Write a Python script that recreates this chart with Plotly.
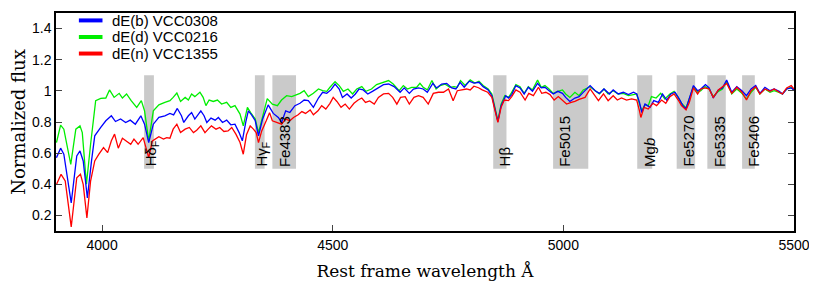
import plotly.graph_objects as go

# ---------------- data ----------------
series_names = ["dE(b) VCC0308", "dE(d) VCC0216", "dE(n) VCC1355"]
series_colors = ["#0000ff", "#00ee00", "#ff0000"]

wl_green = [3901, 3910, 3917, 3932, 3943, 3952, 3957, 3966, 3975, 3986, 3997, 4008, 4016, 4026, 4037, 4044,
            4053, 4063, 4075, 4085, 4092, 4101, 4111, 4123, 4136, 4147, 4154, 4162, 4170, 4180, 4187, 4194,
            4201, 4212, 4219, 4225, 4232, 4241, 4250, 4259, 4270, 4279, 4288, 4299, 4306, 4315, 4322, 4332,
            4339, 4350, 4358, 4369, 4380, 4389, 4400, 4411, 4422, 4429, 4438, 4447, 4458, 4469, 4478, 4487,
            4494, 4505, 4514, 4523, 4533, 4543, 4552, 4563, 4572, 4584, 4595, 4610, 4621, 4631, 4644, 4653,
            4662, 4671, 4682, 4689, 4696, 4705, 4715, 4724, 4733, 4743, 4754, 4763, 4770, 4777, 4787, 4798,
            4808, 4817, 4826, 4837, 4845, 4850, 4858, 4865, 4873, 4881, 4886, 4897, 4906, 4915, 4924, 4933,
            4944, 4952, 4960, 4969, 4978, 4988, 4998, 5005, 5014, 5025, 5034, 5043, 5058, 5069, 5078, 5088,
            5097, 5108, 5119, 5130, 5141, 5152, 5159, 5165, 5170, 5177, 5184, 5191, 5201, 5211, 5220, 5231,
            5240, 5249, 5256, 5266, 5273, 5282, 5291, 5298, 5307, 5316, 5325, 5336, 5345, 5354, 5365, 5376,
            5387, 5397, 5407, 5417, 5426, 5437, 5448, 5457, 5466, 5475, 5484, 5494, 5500]
flux_green = [0.668, 0.78, 0.754, 0.528, 0.754, 0.775, 0.732, 0.40, 0.657, 0.937, 0.952, 0.954, 1.006, 0.958, 0.984, 0.954,
              0.980, 0.937, 0.894, 0.937, 0.872, 0.679, 0.872, 0.91, 0.926, 0.937, 0.958, 0.986, 0.932, 0.958, 0.941, 0.98,
              0.963, 0.991, 0.958, 0.905, 0.941, 0.932, 0.941, 0.915, 0.926, 0.894, 0.905, 0.851, 0.775, 0.894, 0.861, 0.819,
              0.732, 0.87, 0.95, 0.915, 0.905, 0.941, 0.969, 0.963, 0.976, 0.984, 1.001, 0.963, 0.984, 1.012, 1.001, 0.997,
              1.023, 1.059, 1.034, 0.997, 1.012, 0.98, 1.012, 1.027, 0.997, 1.012, 1.04, 1.055, 1.066, 1.044, 1.001, 1.034,
              1.012, 1.023, 1.023, 1.048, 1.023, 1.006, 1.066, 1.012, 1.034, 1.044, 1.023, 1.027, 1.023, 1.066, 1.034, 1.07,
              1.05, 1.061, 1.034, 1.012, 0.98, 0.915, 0.808, 0.915, 0.969, 0.958, 0.98, 1.04, 1.027, 0.984, 1.027, 1.006,
              1.07, 1.023, 1.034, 1.012, 0.984, 0.997, 1.006, 0.98, 0.958, 0.991, 0.969, 1.006, 1.027, 1.001, 0.98, 1.012,
              0.98, 1.001, 0.98, 0.984, 0.969, 0.976, 0.98, 0.915, 0.872, 0.911, 0.905, 0.963, 0.954, 0.984, 0.948, 0.98,
              0.997, 0.958, 0.92, 0.89, 0.948, 1.027, 0.991, 1.001, 1.027, 1.012, 0.963, 0.997, 1.012, 1.061, 0.98, 1.012,
              0.984, 0.948, 0.991, 1.023, 0.98, 1.012, 0.991, 1.001, 0.991, 0.98, 1.012, 1.023, 1.001]

wl_blue = [3901, 3910, 3917, 3933, 3945, 3952, 3959, 3968, 3977, 3984, 3997, 4008, 4020, 4029, 4040, 4051,
           4061, 4072, 4084, 4092, 4101, 4111, 4123, 4136, 4147, 4155, 4163, 4172, 4177, 4187, 4194, 4201,
           4214, 4221, 4227, 4236, 4245, 4252, 4261, 4270, 4279, 4288, 4297, 4304, 4312, 4317, 4324, 4332,
           4339, 4348, 4360, 4371, 4382, 4389, 4398, 4407, 4418, 4429, 4438, 4447, 4458, 4469, 4478, 4487,
           4496, 4505, 4514, 4521, 4531, 4540, 4549, 4557, 4566, 4576, 4586, 4597, 4610, 4621, 4633, 4646,
           4655, 4666, 4675, 4686, 4696, 4705, 4717, 4725, 4736, 4747, 4758, 4767, 4776, 4785, 4796, 4806,
           4817, 4826, 4837, 4845, 4850, 4858, 4865, 4875, 4881, 4888, 4897, 4906, 4915, 4924, 4933, 4944,
           4952, 4960, 4969, 4978, 4988, 4998, 5005, 5014, 5025, 5034, 5043, 5058, 5069, 5078, 5088, 5100,
           5108, 5119, 5130, 5141, 5152, 5159, 5165, 5170, 5177, 5188, 5196, 5206, 5215, 5224, 5233, 5242,
           5251, 5259, 5266, 5273, 5282, 5291, 5298, 5308, 5316, 5325, 5336, 5345, 5354, 5365, 5376, 5387,
           5397, 5407, 5417, 5426, 5437, 5448, 5457, 5468, 5475, 5484, 5494, 5500]
flux_blue = [0.571, 0.632, 0.593, 0.281, 0.582, 0.614, 0.55, 0.313, 0.55, 0.711, 0.765, 0.808, 0.84, 0.803, 0.819, 0.797,
             0.812, 0.786, 0.84, 0.786, 0.668, 0.786, 0.83, 0.84, 0.855, 0.846, 0.887, 0.84, 0.797, 0.84, 0.861, 0.819,
             0.872, 0.84, 0.797, 0.825, 0.812, 0.829, 0.797, 0.812, 0.782, 0.786, 0.732, 0.679, 0.808, 0.872, 0.846, 0.808,
             0.711, 0.82, 0.91, 0.855, 0.829, 0.797, 0.872, 0.861, 0.905, 0.92, 0.941, 0.937, 0.894, 0.954, 0.991, 0.984,
             1.006, 1.044, 1.012, 0.958, 0.98, 0.954, 0.98, 1.012, 1.006, 0.98, 0.997, 1.015, 1.04, 1.044, 1.027, 0.991,
             1.019, 0.984, 1.012, 1.019, 1.012, 0.991, 1.048, 1.019, 1.044, 1.048, 1.019, 1.012, 1.055, 1.023, 1.062, 1.05,
             1.055, 1.027, 1.006, 0.969, 0.905, 0.803, 0.905, 0.969, 0.954, 0.976, 1.034, 1.019, 0.98, 1.023, 0.997, 1.048,
             1.019, 1.023, 1.001, 0.98, 0.997, 0.984, 0.958, 0.932, 0.954, 0.963, 0.99, 1.034, 1.001, 0.984, 1.012, 0.98,
             1.006, 0.98, 0.991, 0.976, 0.991, 0.98, 0.926, 0.861, 0.915, 0.894, 0.937, 0.926, 0.98, 0.941, 0.98, 0.991,
             0.948, 0.905, 0.885, 0.95, 1.034, 1.001, 1.012, 1.04, 1.019, 0.954, 1.006, 1.019, 1.07, 0.991, 1.027, 1.001,
             0.969, 1.012, 1.034, 0.984, 1.023, 1.001, 1.012, 0.997, 0.98, 1.012, 1.019, 1.006]

wl_red = [3901, 3911, 3920, 3933, 3945, 3953, 3959, 3967, 3975, 3984, 3993, 4003, 4012, 4020, 4027, 4035,
          4044, 4053, 4062, 4069, 4078, 4089, 4097, 4101, 4109, 4123, 4133, 4140, 4147, 4154, 4162, 4170,
          4180, 4189, 4198, 4205, 4214, 4223, 4230, 4237, 4247, 4255, 4264, 4273, 4281, 4290, 4299, 4306,
          4313, 4321, 4328, 4334, 4339, 4346, 4356, 4363, 4369, 4380, 4389, 4398, 4407, 4415, 4425, 4433,
          4441, 4451, 4458, 4468, 4476, 4485, 4494, 4501, 4509, 4518, 4527, 4536, 4546, 4555, 4563, 4571,
          4580, 4590, 4599, 4610, 4621, 4630, 4639, 4647, 4657, 4666, 4676, 4686, 4696, 4707, 4718, 4729,
          4740, 4751, 4761, 4770, 4780, 4790, 4798, 4806, 4816, 4824, 4836, 4845, 4850, 4858, 4865, 4872,
          4881, 4888, 4897, 4906, 4917, 4925, 4935, 4946, 4953, 4962, 4971, 4980, 4989, 4998, 5007, 5017,
          5025, 5034, 5047, 5058, 5066, 5076, 5087, 5097, 5108, 5117, 5126, 5137, 5148, 5159, 5165, 5168,
          5175, 5184, 5194, 5202, 5213, 5222, 5231, 5240, 5249, 5256, 5266, 5273, 5282, 5291, 5298, 5307,
          5316, 5325, 5336, 5345, 5354, 5365, 5376, 5387, 5397, 5407, 5417, 5426, 5437, 5448, 5457, 5468,
          5475, 5484, 5494, 5500]
flux_red = [0.399, 0.464, 0.421, 0.126, 0.442, 0.464, 0.399, 0.184, 0.421, 0.55, 0.593, 0.636, 0.603, 0.679, 0.722, 0.632,
            0.696, 0.679, 0.657, 0.69, 0.657, 0.70, 0.614, 0.571, 0.679, 0.705, 0.69, 0.70, 0.696, 0.754, 0.786, 0.732,
            0.754, 0.765, 0.732, 0.747, 0.775, 0.732, 0.754, 0.775, 0.754, 0.765, 0.739, 0.743, 0.765, 0.722, 0.668, 0.593,
            0.718, 0.775, 0.754, 0.732, 0.668, 0.743, 0.81, 0.86, 0.808, 0.797, 0.786, 0.819, 0.808, 0.829, 0.846, 0.867,
            0.855, 0.877, 0.846, 0.872, 0.905, 0.883, 0.92, 0.958, 0.932, 0.894, 0.915, 0.883, 0.92, 0.941, 0.954, 0.926,
            0.935, 0.915, 0.958, 0.98, 0.984, 0.958, 0.915, 0.958, 0.963, 0.915, 0.958, 0.969, 0.958, 0.915, 0.984, 0.991,
            0.991, 1.012, 0.937, 1.001, 1.006, 1.012, 1.006, 1.03, 1.02, 1.006, 0.991, 0.958, 0.894, 0.797, 0.894, 0.941,
            0.937, 0.963, 1.006, 0.991, 0.941, 0.984, 0.969, 1.023, 0.984, 0.991, 0.976, 0.941, 0.963, 0.937, 0.915, 0.926,
            0.932, 0.945, 0.958, 1.012, 0.98, 0.937, 0.98, 0.937, 0.969, 0.941, 0.954, 0.941, 0.948, 0.941, 0.872, 0.829,
            0.894, 0.883, 0.92, 0.905, 0.941, 0.92, 0.963, 0.98, 0.941, 0.905, 0.877, 0.925, 1.019, 0.98, 1.012, 1.019,
            1.012, 0.958, 1.006, 1.027, 1.048, 0.984, 1.023, 0.991, 0.941, 1.001, 1.027, 0.98, 1.012, 0.997, 1.012, 0.991,
            0.98, 1.019, 1.034, 1.012]

# Lick index passbands (Å) and their labels
band_lo = [4091.00, 4331.25, 4369.125, 4847.875, 4977.75, 5160.125, 5245.65, 5312.125, 5387.5]
band_hi = [4112.25, 4352.25, 4420.375, 4876.625, 5054.00, 5192.625, 5285.65, 5352.125, 5415.0]
band_labels = ["Hδ<sub>F</sub>", "Hγ<sub>F</sub>", "Fe4383", "Hβ", "Fe5015", "Mg<i>b</i>",
               "Fe5270", "Fe5335", "Fe5406"]
band_bottom = 0.5
band_top = 1.1

x_ticks = [4000, 4500, 5000, 5500]
y_ticks = [0.2, 0.4, 0.6, 0.8, 1.0, 1.2, 1.4]
y_tick_text = ["0.2", "0.4", "0.6", "0.8", "1", "1.2", "1.4"]

# ---------------- figure ----------------
fig = go.Figure()

spectra = {
    "dE(d) VCC0216": (wl_green, flux_green),
    "dE(b) VCC0308": (wl_blue, flux_blue),
    "dE(n) VCC1355": (wl_red, flux_red),
}
color_of = dict(zip(series_names, series_colors))
for name, (wl, fl) in spectra.items():
    fig.add_trace(go.Scatter(x=wl, y=fl, mode="lines", name=name,
                             line=dict(color=color_of[name], width=1.3),
                             showlegend=False))

label_font = dict(family="Liberation Sans, Arial, sans-serif", size=15, color="#000000")
for lo, hi, lab in zip(band_lo, band_hi, band_labels):
    fig.add_shape(type="rect", xref="x", yref="y", x0=lo, x1=hi, y0=band_bottom, y1=band_top,
                  fillcolor="#cacaca", line=dict(width=0), layer="below")
    shift = -4 if "<sub>" in lab else 1
    fig.add_annotation(x=lo, y=band_bottom, xref="x", yref="y", text=lab, textangle=-90,
                       showarrow=False, xanchor="left", yanchor="bottom", xshift=shift,
                       font=label_font)

# manual legend (compact row spacing as in the reference)
leg_y = [0.966, 0.890, 0.814]
for name, col, yy in zip(series_names, series_colors, leg_y):
    fig.add_shape(type="line", xref="paper", yref="paper", x0=0.031, x1=0.063, y0=yy, y1=yy,
                  line=dict(color=col, width=4))
    fig.add_annotation(x=0.075, y=yy, xref="paper", yref="paper", text=name, showarrow=False,
                       xanchor="left", yanchor="middle", borderpad=0,
                       font=dict(family="Liberation Sans, Arial, sans-serif", size=15, color="#000000"))

# the page body has an 8 px margin, so the figure is sized to fit inside the window
fig.update_layout(
    width=809, height=280,
    margin=dict(l=48, r=23, t=5, b=57),
    paper_bgcolor="white", plot_bgcolor="white",
    showlegend=False,
    font=dict(family="Liberation Sans, Arial, sans-serif", size=14, color="#000000"),
)
fig.update_xaxes(range=[3900, 5500], tickvals=x_ticks, ticks="inside", ticklen=6, tickwidth=1.2,
                 showline=True, linecolor="black", linewidth=1.5, mirror=True, showgrid=False,
                 zeroline=False, tickfont=dict(size=14), automargin=False,
                 title=dict(text="Rest frame wavelength Å", standoff=14,
                            font=dict(family="DejaVu Serif, serif", size=17)))
fig.update_yaxes(range=[0.1, 1.5], tickvals=y_ticks, ticktext=y_tick_text, ticks="inside", ticklen=6,
                 tickwidth=1.2, showline=True, linecolor="black", linewidth=1.5, mirror="ticks",
                 showgrid=False, zeroline=False, tickfont=dict(size=14), automargin=False,
                 title=dict(text="Normalized flux", standoff=5,
                            font=dict(family="DejaVu Serif, serif", size=18)))

fig.write_html("out.html")
